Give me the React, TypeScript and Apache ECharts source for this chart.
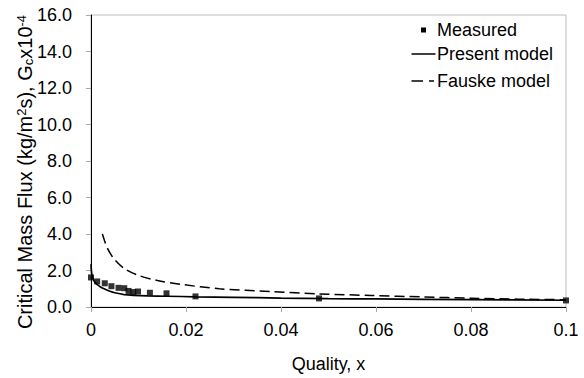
import React, { useEffect, useRef } from "react";
import * as echarts from "echarts";

const measuredX = [0, 0.0013, 0.0029, 0.0043, 0.0058, 0.007, 0.0079, 0.0089, 0.0099, 0.0124, 0.0159, 0.022, 0.048, 0.1];
const measuredY = [1.62, 1.4, 1.3, 1.14, 1.05, 1.03, 0.88, 0.82, 0.85, 0.78, 0.75, 0.58, 0.47, 0.36];

const presentX = [0, 0.0002, 0.0006, 0.0012, 0.002, 0.003, 0.004, 0.005, 0.007, 0.009, 0.012, 0.016, 0.022, 0.03, 0.04, 0.05, 0.06, 0.08, 0.1];
const presentY = [2.35, 1.75, 1.45, 1.25, 1.1, 0.97, 0.86, 0.78, 0.68, 0.64, 0.61, 0.59, 0.56, 0.53, 0.49, 0.46, 0.44, 0.4, 0.37];

const fauskeX = [0.0024, 0.0034, 0.0049, 0.007, 0.0098, 0.014, 0.019, 0.027, 0.038, 0.048, 0.059, 0.07, 0.08, 0.09, 0.1];
const fauskeY = [4.0, 3.25, 2.62, 2.11, 1.75, 1.45, 1.24, 1.0, 0.85, 0.72, 0.63, 0.55, 0.48, 0.43, 0.4];

const legendNames = ["Measured", "Present model", "Fauske model"];
const xTicks = ["0", "0.02", "0.04", "0.06", "0.08", "0.1"];

const FONT = "'Liberation Sans', Arial, Helvetica, sans-serif";

export default function App() {
  const ref = useRef<HTMLDivElement>(null);
  useEffect(() => {
    if (!ref.current) return;
    const chart = echarts.init(ref.current, null, { renderer: "svg" });
    const zip = (xs: number[], ys: number[]) => xs.map((x, i) => [x, ys[i]]);
    const legendText = (t: string, y: number) => ({
      type: "text",
      x: 437,
      y,
      style: { text: t, fontSize: 18, fontFamily: FONT, fill: "#000", verticalAlign: "middle" },
    });
    chart.setOption({
      animation: false,
      backgroundColor: "#fff",
      textStyle: { fontFamily: FONT },
      grid: {
        left: 91,
        right: 18,
        top: 15,
        bottom: 68,
        show: true,
        borderColor: "#bdbdbd",
        borderWidth: 1,
      },
      xAxis: {
        type: "value",
        min: 0,
        max: 0.1,
        interval: 0.02,
        name: "Quality, x",
        nameLocation: "middle",
        nameGap: 48,
        nameTextStyle: { fontSize: 18, color: "#000", fontFamily: FONT },
        axisLine: { show: true, onZero: false, lineStyle: { color: "#000", width: 1 } },
        axisTick: { show: true, inside: false, length: 5, lineStyle: { color: "#aaa" } },
        axisLabel: {
          fontSize: 18,
          color: "#000",
          margin: 14,
          fontFamily: FONT,
          formatter: (v: number) => {
            const i = Math.round(v / 0.02);
            return xTicks[i] ?? "";
          },
        },
        splitLine: { show: false },
      },
      yAxis: {
        type: "value",
        min: 0,
        max: 16,
        interval: 2,
        axisLine: { show: true, onZero: false, lineStyle: { color: "#000", width: 1 } },
        axisTick: { show: true, inside: false, length: 5, lineStyle: { color: "#aaa" } },
        axisLabel: {
          fontSize: 18,
          color: "#000",
          margin: 19,
          fontFamily: FONT,
          formatter: (v: number) => v.toFixed(1),
        },
        splitLine: { show: false },
      },
      graphic: [
        {
          type: "text",
          x: 25,
          y: 172,
          rotation: Math.PI / 2,
          style: {
            text: "Critical Mass Flux (kg/m{sup|2}s), G{sub|c}x10{sup|-4}",
            fontSize: 20,
            fontFamily: FONT,
            fill: "#000",
            align: "center",
            verticalAlign: "middle",
            rich: {
              sup: { fontSize: 13, fontFamily: FONT, verticalAlign: "top", lineHeight: 13, fill: "#000" },
              sub: { fontSize: 13, fontFamily: FONT, verticalAlign: "bottom", lineHeight: 13, fill: "#000" },
            },
          },
        },
        {
          type: "rect",
          shape: { x: 421, y: 27.5, width: 5, height: 5 },
          style: { fill: "#000" },
        },
        legendText(legendNames[0], 29.5),
        {
          type: "line",
          shape: { x1: 411.5, y1: 54, x2: 435.5, y2: 54 },
          style: { stroke: "#000", lineWidth: 1.5 },
        },
        legendText(legendNames[1], 53.5),
        {
          type: "line",
          shape: { x1: 411.5, y1: 81, x2: 423, y2: 81 },
          style: { stroke: "#000", lineWidth: 1.5 },
        },
        {
          type: "line",
          shape: { x1: 429, y1: 81, x2: 434, y2: 81 },
          style: { stroke: "#000", lineWidth: 1.5 },
        },
        legendText(legendNames[2], 80.5),
      ],
      series: [
        {
          name: legendNames[2],
          type: "line",
          data: zip(fauskeX, fauskeY),
          showSymbol: false,
          symbol: "none",
          smooth: 0.3,
          lineStyle: { color: "#000", width: 1.5, type: [10, 5] },
          z: 2,
        },
        {
          name: legendNames[1],
          type: "line",
          data: zip(presentX, presentY),
          showSymbol: false,
          symbol: "none",
          smooth: 0.3,
          lineStyle: { color: "#000", width: 1.7 },
          z: 3,
        },
        {
          name: legendNames[0],
          type: "scatter",
          data: zip(measuredX, measuredY),
          symbol: "rect",
          symbolSize: 6,
          itemStyle: { color: "#000" },
          z: 4,
        },
      ],
    });
    return () => chart.dispose();
  }, []);
  return <div ref={ref} style={{ width: 584, height: 378, position: "absolute", left: 0, top: 0 }} />;
}
